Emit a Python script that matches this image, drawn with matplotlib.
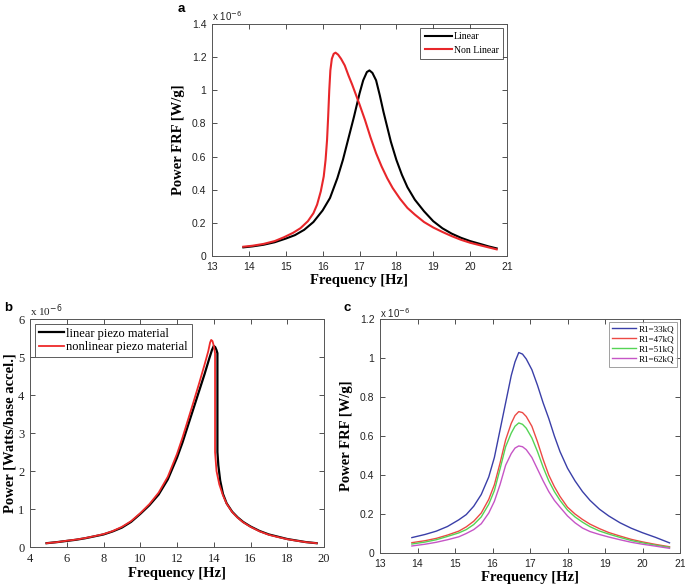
import matplotlib
matplotlib.use("Agg")
import matplotlib.pyplot as plt

# ---------------- data (values in units of 1e-6) ----------------
# Panel a
a_lin_f = [13.85, 14.1, 14.4, 14.7, 15.0, 15.25, 15.5, 15.75, 16.0, 16.2, 16.4, 16.55, 16.7,
           16.85, 17.0, 17.1, 17.2, 17.27, 17.35, 17.45, 17.55, 17.65, 17.75, 17.85, 18.0,
           18.15, 18.3, 18.5, 18.75, 19.0, 19.25, 19.5, 19.75, 20.0, 20.3, 20.5, 20.72]
a_lin_p = [0.052, 0.058, 0.068, 0.083, 0.105, 0.126, 0.158, 0.205, 0.275, 0.35, 0.47, 0.58,
           0.71, 0.84, 0.98, 1.06, 1.11, 1.12, 1.105, 1.06, 0.97, 0.87, 0.78, 0.69, 0.58,
           0.49, 0.415, 0.34, 0.27, 0.21, 0.167, 0.135, 0.11, 0.09, 0.071, 0.058, 0.046]
a_nl_f = [13.85, 14.1, 14.4, 14.7, 14.95, 15.2, 15.4, 15.6, 15.75, 15.85, 15.95, 16.03,
          16.08, 16.12, 16.15, 16.18, 16.21, 16.25, 16.3, 16.35, 16.42, 16.5, 16.6, 16.7,
          16.8, 16.9, 17.0, 17.15, 17.3, 17.45, 17.6, 17.75, 17.9, 18.1, 18.3, 18.5, 18.75,
          19.0, 19.25, 19.5, 19.75, 20.0, 20.3, 20.5, 20.72]
a_nl_p = [0.056, 0.062, 0.073, 0.09, 0.113, 0.14, 0.168, 0.21, 0.258, 0.31, 0.39, 0.48,
          0.58, 0.70, 0.84, 1.00, 1.12, 1.19, 1.22, 1.227, 1.215, 1.19, 1.15, 1.09, 1.035,
          0.975, 0.915, 0.82, 0.715, 0.62, 0.54, 0.47, 0.41, 0.345, 0.29, 0.25, 0.205,
          0.172, 0.145, 0.12, 0.098, 0.08, 0.063, 0.052, 0.04]
a_labels = ["Linear", "Non Linear"]

# Panel b
b_lin_f = [4.9, 5.5, 6.0, 6.5, 7.0, 7.5, 8.0, 8.5, 9.0, 9.5, 10.0, 10.5, 11.0, 11.5, 12.0,
           12.3, 12.6, 12.9, 13.2, 13.5, 13.75, 13.9, 14.0, 14.08, 14.15, 14.2, 14.2, 14.25,
           14.35, 14.5, 14.7, 15.0, 15.3, 15.6, 16.0, 16.5, 17.0, 17.5, 18.0, 18.5, 19.0,
           19.6]
b_lin_p = [0.10, 0.13, 0.16, 0.19, 0.23, 0.28, 0.33, 0.41, 0.51, 0.66, 0.87, 1.10, 1.38,
           1.78, 2.35, 2.75, 3.20, 3.65, 4.10, 4.55, 4.95, 5.18, 5.29, 5.26, 5.18, 5.10,
           2.50, 2.15, 1.75, 1.40, 1.15, 0.93, 0.78, 0.66, 0.54, 0.42, 0.33, 0.27, 0.21,
           0.17, 0.13, 0.10]
b_nl_f = [4.9, 5.5, 6.0, 6.5, 7.0, 7.5, 8.0, 8.5, 9.0, 9.5, 10.0, 10.5, 11.0, 11.5, 12.0,
          12.3, 12.6, 12.9, 13.2, 13.5, 13.7, 13.8, 13.86, 13.93, 14.0, 14.07, 14.07, 14.15,
          14.3, 14.5, 14.7, 15.0, 15.3, 15.6, 16.0, 16.5, 17.0, 17.5, 18.0, 18.5, 19.0,
          19.6]
b_nl_p = [0.10, 0.13, 0.165, 0.195, 0.235, 0.285, 0.34, 0.42, 0.53, 0.68, 0.89, 1.13,
          1.43, 1.85, 2.45, 2.88, 3.35, 3.82, 4.30, 4.80, 5.15, 5.38, 5.45, 5.42, 5.30,
          5.10, 2.50, 2.00, 1.65, 1.36, 1.14, 0.92, 0.77, 0.65, 0.53, 0.41, 0.32, 0.26,
          0.205, 0.165, 0.128, 0.10]
b_labels = ["linear piezo material", "nonlinear piezo material"]

# Panel c
c_f = [13.85, 14.2, 14.5, 14.8, 15.1, 15.3, 15.5, 15.7, 15.9, 16.05, 16.2, 16.35, 16.5,
       16.6, 16.7, 16.8, 16.9, 17.05, 17.2, 17.35, 17.5, 17.65, 17.8, 18.0, 18.2, 18.4,
       18.6, 18.85, 19.1, 19.4, 19.7, 20.0, 20.35, 20.72]
c_r33 = [0.079, 0.095, 0.112, 0.136, 0.17, 0.197, 0.24, 0.30, 0.39, 0.49, 0.63, 0.77,
         0.91, 0.98, 1.028, 1.02, 0.995, 0.94, 0.86, 0.77, 0.69, 0.60, 0.52, 0.435, 0.37,
         0.315, 0.27, 0.225, 0.19, 0.155, 0.127, 0.104, 0.08, 0.052]
c_r47 = [0.053, 0.063, 0.075, 0.092, 0.112, 0.134, 0.163, 0.205, 0.275, 0.35, 0.46, 0.58,
         0.665, 0.705, 0.725, 0.72, 0.70, 0.65, 0.57, 0.48, 0.40, 0.34, 0.29, 0.235, 0.20,
         0.172, 0.148, 0.125, 0.105, 0.087, 0.07, 0.057, 0.044, 0.032]
c_r51 = [0.046, 0.056, 0.068, 0.085, 0.103, 0.12, 0.146, 0.185, 0.25, 0.32, 0.43, 0.545,
         0.615, 0.65, 0.667, 0.66, 0.64, 0.59, 0.52, 0.44, 0.37, 0.315, 0.27, 0.22, 0.185,
         0.158, 0.135, 0.113, 0.097, 0.08, 0.064, 0.052, 0.04, 0.029]
c_r62 = [0.036, 0.045, 0.055, 0.068, 0.083, 0.10, 0.12, 0.15, 0.205, 0.265, 0.35, 0.45,
         0.51, 0.538, 0.549, 0.545, 0.53, 0.49, 0.43, 0.37, 0.315, 0.27, 0.235, 0.19,
         0.155, 0.128, 0.11, 0.095, 0.082, 0.068, 0.055, 0.045, 0.035, 0.024]
c_labels = ["R1=33kQ", "R1=47kQ", "R1=51kQ", "R1=62kQ"]
c_colors = ["#3a3fa8", "#ec4a45", "#55d455", "#c655c6"]

SANS = "Liberation Sans"
SERIF = "Liberation Serif"

fig = plt.figure(figsize=(6.85, 5.85), dpi=100)


def style_axes(ax, tickfont, tsize):
    ax.tick_params(direction="in", top=True, right=True, length=3.5, width=0.6,
                   labelsize=tsize, pad=4, colors="#333333", labelcolor="#222222")
    for lab in ax.get_xticklabels() + ax.get_yticklabels():
        lab.set_family(tickfont)
    for s in ax.spines.values():
        s.set_linewidth(0.7)
        s.set_color("#555555")


# ---------------- panel a ----------------
ax = fig.add_axes([212 / 685, 1 - 256 / 585, 295 / 685, 232 / 585])
ax.plot(a_lin_f, a_lin_p, color="black", lw=1.5, label=a_labels[0])
ax.plot(a_nl_f, a_nl_p, color="#e8262a", lw=1.5, label=a_labels[1])
ax.set_xlim(13, 21)
ax.set_ylim(0, 1.4)
ax.set_xticks(range(13, 22))
ax.set_yticks([0, 0.2, 0.4, 0.6, 0.8, 1.0, 1.2, 1.4])
ax.set_yticklabels(["0", "0.2", "0.4", "0.6", "0.8", "1", "1.2", "1.4"])
style_axes(ax, SANS, 7.5)
ax.set_xlabel("Frequency [Hz]", family=SERIF, fontweight="bold", fontsize=10.5, labelpad=2)
ax.set_ylabel("Power FRF [W/g]", family=SERIF, fontweight="bold", fontsize=10.5, labelpad=5)
ax.text(0.0, 1.035, "x 10$^{-6}$", transform=ax.transAxes, family=SANS, fontsize=7,
        va="center", ha="left", color="#222222")
leg = ax.legend(loc="upper right", prop={"family": SERIF, "size": 7}, frameon=True,
                fancybox=False, handlelength=2.8, borderpad=0.45, labelspacing=0.45,
                handletextpad=0.2, borderaxespad=0.4)
leg.get_frame().set_edgecolor("#333333")
leg.get_frame().set_linewidth(0.7)
fig.text(178 / 685, 1 - 9 / 585, "a", family=SANS, fontweight="bold", fontsize=9.5,
         va="center")

# ---------------- panel b ----------------
ax = fig.add_axes([30 / 685, 1 - 547 / 585, 294 / 685, 228 / 585])
ax.plot(b_lin_f, b_lin_p, color="black", lw=1.6, label=b_labels[0])
ax.plot(b_nl_f, b_nl_p, color="#ee2a2a", lw=1.3, label=b_labels[1])
ax.set_xlim(4, 20)
ax.set_ylim(0, 6)
ax.set_xticks(range(4, 21, 2))
ax.set_yticks(range(0, 7))
style_axes(ax, SERIF, 9)
ax.set_xlabel("Frequency [Hz]", family=SERIF, fontweight="bold", fontsize=10.5, labelpad=2)
ax.set_ylabel("Power [Watts/base accel.]", family=SERIF, fontweight="bold", fontsize=10.5,
              labelpad=1)
ax.text(0.0, 1.035, "x 10$^{-6}$", transform=ax.transAxes, family=SERIF, fontsize=8,
        va="center", ha="left", color="#222222")
leg = ax.legend(loc="upper left", prop={"family": SERIF, "size": 9}, frameon=True,
                fancybox=False, handlelength=2.0, borderpad=0.3, labelspacing=0.1,
                handletextpad=0.2, borderaxespad=0.4)
leg.get_frame().set_edgecolor("#333333")
leg.get_frame().set_linewidth(0.7)
fig.text(4 / 685, 1 - 308 / 585, "b", family=SANS, fontweight="bold", fontsize=9.5,
         va="center")

# ---------------- panel c ----------------
ax = fig.add_axes([380 / 685, 1 - 553 / 585, 300 / 685, 234 / 585])
for vals, lab, col in zip([c_r33, c_r47, c_r51, c_r62], c_labels, c_colors):
    ax.plot(c_f, vals, color=col, lw=1.0, label=lab)
ax.set_xlim(13, 21)
ax.set_ylim(0, 1.2)
ax.set_xticks(range(13, 22))
ax.set_yticks([0, 0.2, 0.4, 0.6, 0.8, 1.0, 1.2])
ax.set_yticklabels(["0", "0.2", "0.4", "0.6", "0.8", "1", "1.2"])
style_axes(ax, SANS, 7.5)
ax.set_xlabel("Frequency [Hz]", family=SERIF, fontweight="bold", fontsize=10.5, labelpad=2)
ax.set_ylabel("Power FRF [W/g]", family=SERIF, fontweight="bold", fontsize=10.5, labelpad=5)
ax.text(0.0, 1.025, "x 10$^{-6}$", transform=ax.transAxes, family=SANS, fontsize=7,
        va="center", ha="left", color="#222222")
leg = ax.legend(loc="upper right", prop={"family": SERIF, "size": 6.5}, frameon=True,
                fancybox=False, handlelength=2.6, borderpad=0.35, labelspacing=0.2,
                handletextpad=0.3, borderaxespad=0.3)
leg.get_frame().set_edgecolor("#888888")
leg.get_frame().set_linewidth(0.7)
fig.text(343 / 685, 1 - 308 / 585, "c", family=SANS, fontweight="bold", fontsize=9.5,
         va="center")

fig.savefig("out.png", dpi=100)
